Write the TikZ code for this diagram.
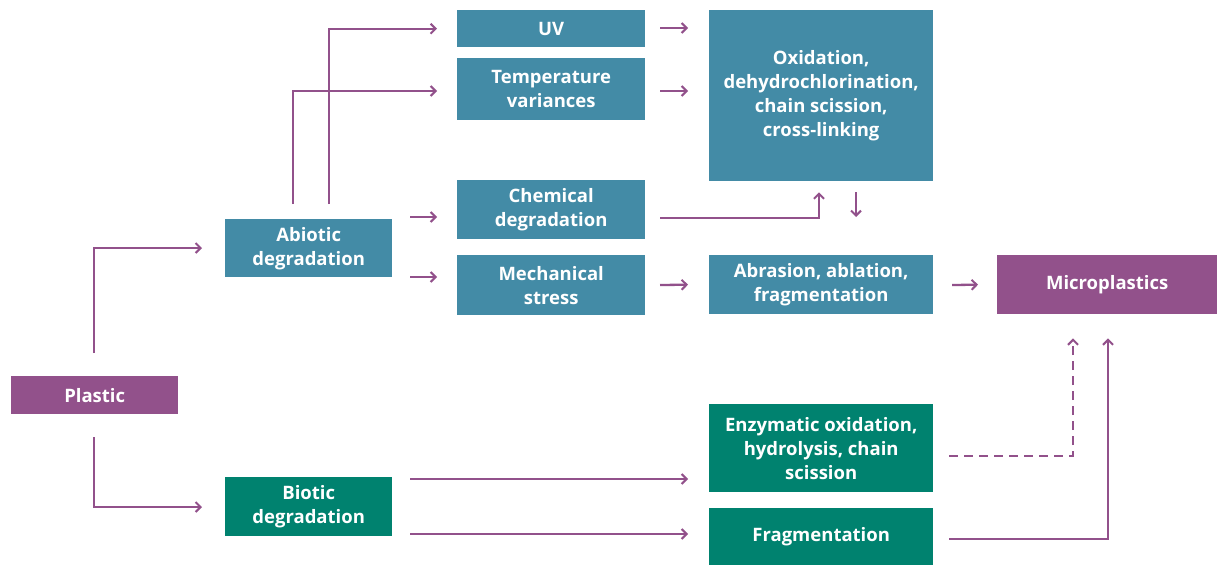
\documentclass[tikz,border=0pt]{standalone}
\usepackage{fontspec}
\setmainfont{Open Sans}
\usetikzlibrary{arrows.meta}
\definecolor{abio}{HTML}{438BA6}
\definecolor{plum}{HTML}{92518B}
\definecolor{bio}{HTML}{00826F}
\begin{document}
\begin{tikzpicture}[x=1pt,y=-1pt,
  box/.style={fill=#1,text=white,font=\fontsize{18.5}{24}\selectfont\bfseries,align=center,inner sep=0pt,anchor=north west},
  conn/.style={draw=plum,line width=2.3pt,-{Straight Barb[length=5pt,width=10pt,line width=2pt]}},
  dconn/.style={conn,dash pattern=on 9pt off 6pt}]
\useasboundingbox (0,0) rectangle (1217,565);
\node[box=plum,minimum width=167pt,minimum height=38pt] (plastic) at (11,376) {Plastic};
\node[box=abio,minimum width=167pt,minimum height=58pt] (abiotic) at (225,219) {Abiotic\\degradation};
\node[box=bio,minimum width=167pt,minimum height=59pt] (biotic) at (225,477) {Biotic\\degradation};
\node[box=abio,minimum width=188pt,minimum height=37pt] (uv) at (457,10) {UV};
\node[box=abio,minimum width=188pt,minimum height=62pt] (temp) at (457,58) {Temperature\\variances};
\node[box=abio,minimum width=188pt,minimum height=59pt] (chem) at (457,180) {Chemical\\degradation};
\node[box=abio,minimum width=188pt,minimum height=60pt] (mech) at (457,255) {Mechanical\\stress};
\node[box=abio,minimum width=224pt,minimum height=171pt] (oxid) at (709,10) {Oxidation,\\dehydrochlorination,\\chain scission,\\cross-linking};
\node[box=abio,minimum width=224pt,minimum height=59pt] (abr) at (709,255) {Abrasion, ablation,\\fragmentation};
\node[box=plum,minimum width=220pt,minimum height=59pt] (micro) at (997,255) {Microplastics};
\node[box=bio,minimum width=224pt,minimum height=88pt] (enz) at (709,404) {Enzymatic oxidation,\\hydrolysis, chain\\scission};
\node[box=bio,minimum width=224pt,minimum height=57pt] (frag) at (709,508) {Fragmentation};
% free-end coordinates
\coordinate (p1) at (94,353);
\coordinate (p2) at (94,437);
\coordinate (a1) at (329,204);
\coordinate (a2) at (293,204);
\coordinate (a3) at (410,217);
\coordinate (a4) at (410,277);
\coordinate (b1) at (410,479);
\coordinate (b2) at (410,534);
\coordinate (u1) at (660,28);
\coordinate (t1) at (660,91);
\coordinate (c1) at (660,218);
\coordinate (m1) at (660,285);
\coordinate (o1) at (856,192);
\coordinate (r1) at (952,285);
\coordinate (e1) at (949,456);
\coordinate (f1) at (949,539);
% connectors
\draw[conn] (p1) |- ([xshift=-23pt]abiotic.west |- 0,248);
\draw[conn] (p2) |- ([xshift=-23pt]biotic.west |- 0,507);
\draw[conn] (a1) |- ([xshift=-20pt]uv.west);
\draw[conn] (a2) |- ([xshift=-20pt]temp.west |- 0,91);
\draw[conn] (a3) -- ([xshift=-20pt]chem.west |- 0,217);
\draw[conn] (a4) -- ([xshift=-20pt]mech.west |- 0,277);
\draw[conn] (u1) -- ([xshift=-21pt]oxid.west |- 0,28);
\draw[conn] (t1) -- ([xshift=-21pt]oxid.west |- 0,91);
\draw[conn] (c1) -| ([yshift=-11pt]oxid.south -| 819,0);
\draw[conn] (o1) -- ([yshift=38pt]abr.north -| 856,0);
\draw[conn] (m1) -- ([xshift=-21pt]abr.west);
\draw[conn] (r1) -- ([xshift=-19pt]micro.west);
\draw[conn] (b1) -- ([xshift=-21pt]enz.west |- 0,479);
\draw[conn] (b2) -- ([xshift=-21pt]frag.west |- 0,534);
\draw[dconn] (e1) -| ([yshift=-24pt]micro.south -| 1073,0);
\draw[conn] (f1) -| ([yshift=-24pt]micro.south -| 1108,0);
\end{tikzpicture}
\end{document}
